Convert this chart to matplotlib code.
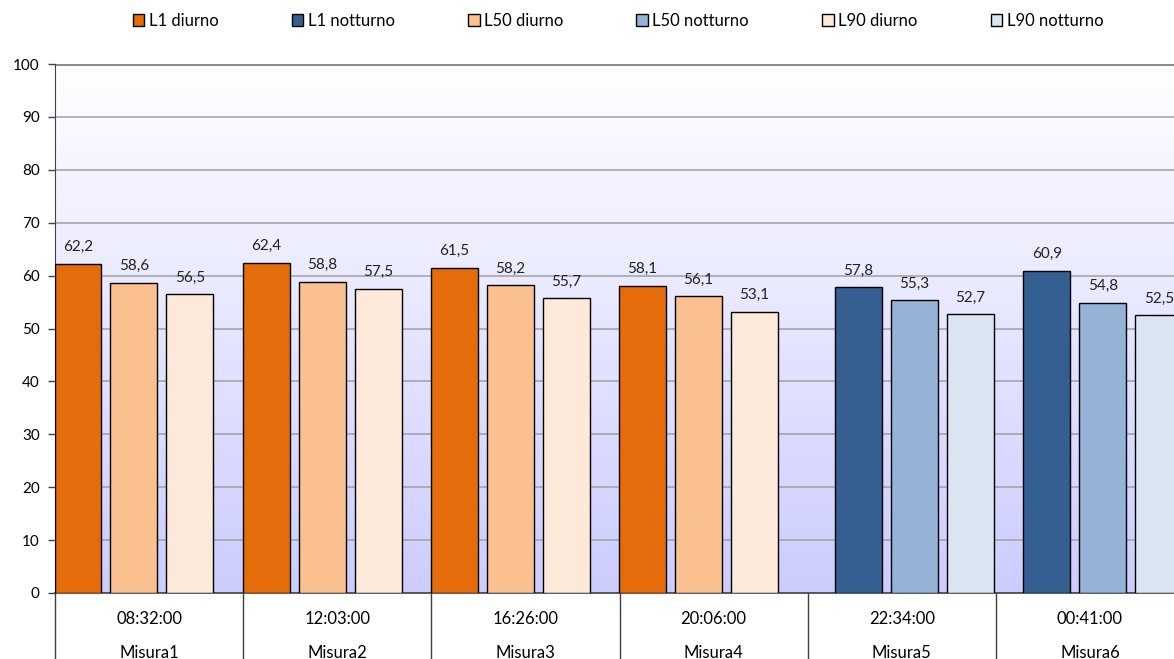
import numpy as np
import matplotlib.pyplot as plt
from matplotlib.colors import LinearSegmentedColormap

plt.rcParams['font.family'] = ['Lato', 'DejaVu Sans']

# data
times = ["08:32:00", "12:03:00", "16:26:00", "20:06:00", "22:34:00", "00:41:00"]
misure = ["Misura1", "Misura2", "Misura3", "Misura4", "Misura5", "Misura6"]
series_names = ["L1 diurno", "L1 notturno", "L50 diurno", "L50 notturno", "L90 diurno", "L90 notturno"]
nan = np.nan
l1_diurno = [62.2, 62.4, 61.5, 58.1, nan, nan]
l1_notturno = [nan, nan, nan, nan, 57.8, 60.9]
l50_diurno = [58.6, 58.8, 58.2, 56.1, nan, nan]
l50_notturno = [nan, nan, nan, nan, 55.3, 54.8]
l90_diurno = [56.5, 57.5, 55.7, 53.1, nan, nan]
l90_notturno = [nan, nan, nan, nan, 52.7, 52.5]
all_series = [l1_diurno, l1_notturno, l50_diurno, l50_notturno, l90_diurno, l90_notturno]
colors = ["#E46C0A", "#365F91", "#FAC090", "#95B3D7", "#FDE9D9", "#DBE5F1"]

W, H = 1174, 659
fig = plt.figure(figsize=(W / 100, H / 100), dpi=100)
ax = fig.add_axes([55 / W, 1 - 593 / H, (1184 - 55) / W, (593 - 64) / H])

# background gradient (white on top, lavender at the bottom)
grad = np.linspace(0, 1, 256).reshape(-1, 1)
cmap = LinearSegmentedColormap.from_list("bg", ["#CCCCFF", "#FFFFFF"])
ax.imshow(grad, extent=[0, 6, 0, 100], origin="lower", aspect="auto", cmap=cmap, zorder=0)

ax.set_xlim(0, 6)
ax.set_ylim(0, 100)

for y in range(10, 100, 10):
    ax.axhline(y, color="#A0A0A0", lw=1.1, zorder=1)
ax.axhline(100, color="#8C8C8C", lw=2.2, zorder=1)

x = np.arange(6)
slot = 28 / 188.2
width = 47 / 188.2
first = 23 / 188.2
for i, (name, vals, c) in enumerate(zip(series_names, all_series, colors)):
    pos = x + first + i * slot
    ax.bar(pos, vals, width=width, color=c, edgecolor="black", lw=1, label=name, zorder=3)
    for p, v in zip(pos, vals):
        if not np.isnan(v):
            ax.annotate(f"{v:.1f}".replace(".", ","), (p, v), xytext=(0, 7),
                        textcoords="offset points", ha="center", va="bottom",
                        fontsize=11, color="#222222", zorder=4)

ax.set_yticks(range(0, 101, 10))
ax.tick_params(axis="y", labelsize=11, length=5, width=1, color="#404040", pad=6)
ax.set_xticks([])
for s in ["top", "right"]:
    ax.spines[s].set_visible(False)
ax.spines["left"].set_color("#404040")
ax.spines["bottom"].set_color("#404040")
ax.spines["bottom"].set_linewidth(1.2)

# category table below the axis
for i in range(7):
    ax.plot([i, i], [0, -13], color="#404040", lw=1, clip_on=False)
for i in range(6):
    ax.text(i + 0.5, -4.9, times[i], ha="center", va="center", fontsize=12, clip_on=False)
    ax.text(i + 0.5, -11.4, misure[i], ha="center", va="center", fontsize=12, clip_on=False)

leg = fig.legend(loc="center", bbox_to_anchor=(618 / W, 1 - 21 / H), ncol=6, frameon=False,
                 fontsize=12, handlelength=0.7, handleheight=0.7, handletextpad=0.25,
                 columnspacing=4.4)

fig.savefig("out.png", dpi=100)
